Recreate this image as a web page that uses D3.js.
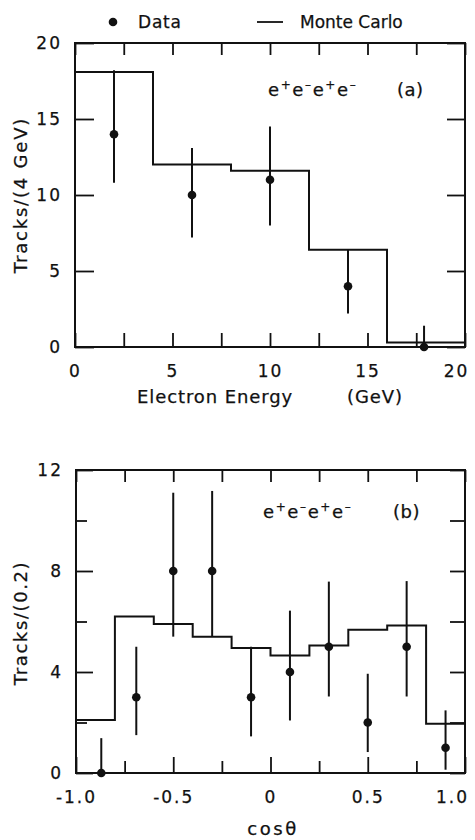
<!DOCTYPE html>
<html>
<head>
<meta charset="utf-8">
<script src="https://cdn.jsdelivr.net/npm/d3@7"></script>
<style>
  html, body { margin: 0; padding: 0; background: #fff; }
  svg { display: block; }
  text { font-family: "DejaVu Sans", sans-serif; fill: #111; stroke: #111; stroke-width: 0.25px; }
</style>
</head>
<body>
<svg id="chart" width="475" height="840"></svg>
<script>
// ---------- Data ----------
// Panel (a): electron energy
const energyBinEdges = [0, 4, 8, 12, 16, 20];
const energyMC = [18.1, 12.0, 11.6, 6.4, 0.3];
const energyX = [2, 6, 10, 14, 17.9];
const energyData = [14, 10, 11, 4, 0];
const energyErrLo = [10.8, 7.2, 8.0, 2.2, 0];
const energyErrHi = [18.2, 13.1, 14.5, 6.4, 1.4];
const energyXTicks = [0, 5, 10, 15, 20];
const energyXMinor = [2.5, 7.5, 12.5, 17.5];
const energyYTicks = [0, 5, 10, 15, 20];

// Panel (b): cos theta
const cosBinEdges = [-1, -0.8, -0.6, -0.4, -0.2, 0, 0.2, 0.4, 0.6, 0.8, 1.0];
const cosMC = [2.1, 6.2, 5.9, 5.4, 4.95, 4.65, 5.05, 5.67, 5.84, 1.95];
const cosX = [-0.87, -0.69, -0.5, -0.3, -0.1, 0.1, 0.3, 0.5, 0.7, 0.9];
const cosData = [0, 3, 8, 8, 3, 4, 5, 2, 5, 1];
const cosErrLo = [0, 1.5, 5.4, 5.4, 1.45, 2.08, 3.03, 0.83, 3.03, 0.13];
const cosErrHi = [1.38, 5.0, 11.1, 11.17, 5.0, 6.43, 7.58, 3.93, 7.6, 2.48];
const cosXTicks = [-1, -0.5, 0, 0.5, 1];
const cosXTickLabels = ["-1.0", "-0.5", "0", "0.5", "1.0"];
const cosXMinor = [-0.75, -0.25, 0.25, 0.75];
const cosYTicks = [0, 4, 8, 12];
const cosYMinor = [2, 6, 10];

// ---------- Drawing ----------
const svg = d3.select("#chart");
const ink = "#111";

function panel(cfg) {
  const g = svg.append("g");
  const x = d3.scaleLinear().domain(cfg.xDomain).range([cfg.left, cfg.right]);
  const y = d3.scaleLinear().domain(cfg.yDomain).range([cfg.bottom, cfg.top]);

  // Bottom axis with labels (major)
  const bMajor = g.append("g").attr("transform", `translate(0,${cfg.bottom})`)
    .call(d3.axisBottom(x).tickValues(cfg.xTicks).tickSize(-cfg.xMajorLen).tickPadding(18)
      .tickFormat((d, i) => cfg.xLabels[i]));
  g.append("g").attr("transform", `translate(0,${cfg.bottom})`)
    .call(d3.axisBottom(x).tickValues(cfg.xMinor).tickSize(-cfg.xMinorLen).tickFormat(""));
  // Top axis
  g.append("g").attr("transform", `translate(0,${cfg.top})`)
    .call(d3.axisTop(x).tickValues(cfg.xTicks.concat(cfg.xMinor)).tickSize(-12).tickFormat(""));
  // Left axis
  g.append("g").attr("transform", `translate(${cfg.left},0)`)
    .call(d3.axisLeft(y).tickValues(cfg.yTicks).tickSize(-cfg.yMajorLen).tickPadding(13)
      .tickFormat(d3.format("d")));
  if (cfg.yMinor.length) {
    g.append("g").attr("transform", `translate(${cfg.left},0)`)
      .call(d3.axisLeft(y).tickValues(cfg.yMinor).tickSize(-cfg.yMinorLen).tickFormat(""));
  }
  // Right axis
  g.append("g").attr("transform", `translate(${cfg.right},0)`)
    .call(d3.axisRight(y).tickValues(cfg.yTicks.concat(cfg.yMinor)).tickSize(-cfg.yRightLen).tickFormat(""));

  g.selectAll(".domain").remove();
  g.selectAll(".tick line").attr("stroke", ink).attr("stroke-width", 1.8);
  g.selectAll(".tick text").attr("font-size", 17).attr("font-family", "DejaVu Sans")
    .attr("fill", ink).style("letter-spacing", "2px");
  // keep the right-most x label inside the page, as in the reference
  bMajor.selectAll(".tick text").filter((d, i, n) => i === n.length - 1)
    .attr("x", cfg.lastLabelShift);

  // Frame
  g.append("rect")
    .attr("x", x(cfg.xDomain[0])).attr("y", y(cfg.yDomain[1]))
    .attr("width", x(cfg.xDomain[1]) - x(cfg.xDomain[0]))
    .attr("height", y(cfg.yDomain[0]) - y(cfg.yDomain[1]))
    .attr("fill", "none").attr("stroke", ink).attr("stroke-width", 2);

  // Monte Carlo histogram
  const pts = [];
  cfg.mc.forEach((v, i) => {
    pts.push([cfg.edges[i], v]);
    pts.push([cfg.edges[i + 1], v]);
  });
  g.append("path")
    .datum(pts)
    .attr("d", d3.line().x(d => x(d[0])).y(d => y(d[1])))
    .attr("fill", "none").attr("stroke", ink).attr("stroke-width", 2);

  // Error bars
  g.selectAll(".err").data(cfg.px).join("line")
    .attr("x1", d => x(d)).attr("x2", d => x(d))
    .attr("y1", (d, i) => y(cfg.lo[i])).attr("y2", (d, i) => y(cfg.hi[i]))
    .attr("stroke", ink).attr("stroke-width", 2);
  // Points
  g.selectAll(".pt").data(cfg.px).join("circle")
    .attr("cx", d => x(d)).attr("cy", (d, i) => y(cfg.vals[i]))
    .attr("r", 4.3).attr("fill", ink);

  // Annotation
  const ann = g.append("text").attr("x", cfg.annX).attr("y", cfg.annY)
    .attr("font-size", 18).style("letter-spacing", "1.6px");
  const parts = [["e", null], ["+", "sup"], ["e", null], ["-", "sup"], ["e", null], ["+", "sup"], ["e", null], ["-", "sup"]];
  parts.forEach(p => {
    const t = ann.append("tspan").text(p[1] ? (p[0] === "-" ? "\u2013" : p[0]) : p[0]);
    if (p[1]) t.attr("font-size", 12).attr("baseline-shift", "7px");
  });
  g.append("text").attr("x", cfg.tagX).attr("y", cfg.annY)
    .attr("font-size", 18).style("letter-spacing", "0.5px").text(cfg.tag);

  return { g, x, y };
}

// Panel (a)
panel({
  xDomain: [0, 20], yDomain: [0, 20],
  left: 75, right: 465, top: 43, bottom: 347,
  xTicks: energyXTicks, xLabels: energyXTicks.map(String), xMinor: energyXMinor,
  yTicks: energyYTicks, yMinor: [],
  xMajorLen: 14, xMinorLen: 14, yMajorLen: 19, yMinorLen: 12, yRightLen: 18,
  edges: energyBinEdges, mc: energyMC,
  px: energyX, vals: energyData, lo: energyErrLo, hi: energyErrHi,
  annX: 268, annY: 96, tagX: 397, tag: "(a)", lastLabelShift: -9
});

// Panel (b)
panel({
  xDomain: [-1, 1], yDomain: [0, 12],
  left: 76, right: 465, top: 470, bottom: 773,
  xTicks: cosXTicks, xLabels: cosXTickLabels, xMinor: cosXMinor,
  yTicks: cosYTicks, yMinor: cosYMinor,
  xMajorLen: 16, xMinorLen: 12, yMajorLen: 17, yMinorLen: 11, yRightLen: 15,
  edges: cosBinEdges, mc: cosMC,
  px: cosX, vals: cosData, lo: cosErrLo, hi: cosErrHi,
  annX: 263, annY: 518, tagX: 393, tag: "(b)", lastLabelShift: -13
});

// Axis titles
svg.append("text").attr("x", 137).attr("y", 403).attr("font-size", 18)
  .style("letter-spacing", "0.9px").text("Electron Energy");
svg.append("text").attr("x", 347).attr("y", 403).attr("font-size", 18)
  .style("letter-spacing", "0.9px").text("(GeV)");
svg.append("text").attr("transform", "translate(27,195) rotate(-90)")
  .attr("text-anchor", "middle").attr("font-size", 18)
  .style("letter-spacing", "1.8px").text("Tracks/(4 GeV)");
svg.append("text").attr("transform", "translate(27,623) rotate(-90)")
  .attr("text-anchor", "middle").attr("font-size", 18)
  .style("letter-spacing", "1.6px").text("Tracks/(0.2)");
svg.append("text").attr("x", 273).attr("y", 835).attr("text-anchor", "middle")
  .attr("font-size", 18).style("letter-spacing", "2.6px").text("cosθ");

// Legend
svg.append("circle").attr("cx", 113).attr("cy", 22).attr("r", 4.3).attr("fill", ink);
svg.append("text").attr("x", 138).attr("y", 28).attr("font-size", 17)
  .style("letter-spacing", "0.8px").text("Data");
svg.append("line").attr("x1", 257).attr("x2", 283).attr("y1", 22).attr("y2", 22)
  .attr("stroke", ink).attr("stroke-width", 1.8);
svg.append("text").attr("x", 300).attr("y", 28).attr("font-size", 17)
  .text("Monte Carlo");
</script>
</body>
</html>
